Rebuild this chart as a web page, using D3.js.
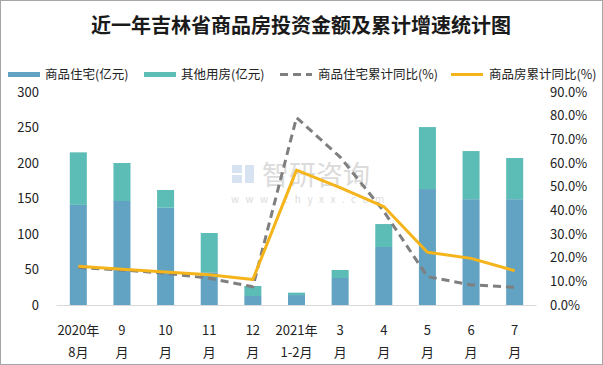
<!DOCTYPE html>
<html><head><meta charset="utf-8">
<script src="https://cdn.jsdelivr.net/npm/d3@7"></script>
<style>body{margin:0;background:#fff}svg{display:block}</style>
</head><body>
<svg id="chart" width="603" height="365"></svg>
<script>
const categories = ["2020年|8月","9|月","10|月","11|月","12|月","2021年|1-2月","3|月","4|月","5|月","6|月","7|月"];
const residential = [141, 146.5, 137, 46, 12.7, 14, 38, 81.7, 163.3, 149, 149];
const otherHousing = [74, 53.5, 25, 55.4, 14.1, 3.4, 11.3, 32.3, 87.3, 67.8, 58];
const residentialYoY = [15.8, 14.8, 13.4, 11.3, 7.7, 79.2, 62.5, 39.6, 12.0, 8.5, 7.5];
const housingYoY = [16.4, 15.1, 13.9, 12.8, 10.8, 57.0, 49.6, 41.6, 22.3, 19.7, 14.5];
const leftTicks = [0, 50, 100, 150, 200, 250, 300];
const rightTicks = [0, 10, 20, 30, 40, 50, 60, 70, 80, 90];
const seriesNames = ["商品住宅(亿元)", "其他用房(亿元)", "商品住宅累计同比(%)", "商品房累计同比(%)"];
const title = "近一年吉林省商品房投资金额及累计增速统计图";

const colors = {res:"#62A2C3", other:"#5CBCB6", gray:"#7F7F7F", yellow:"#F4B41A"};
const svg = d3.select("#chart");
const font = "'Noto Sans CJK SC','Noto Sans',sans-serif";

svg.append("rect").attr("x",0.5).attr("y",0.5).attr("width",602).attr("height",364)
  .attr("fill","#fff").attr("stroke","#A6A6A6");

svg.append("text").attr("x",301).attr("y",33).attr("text-anchor","middle")
  .attr("font-family",font).attr("font-weight","bold").attr("font-size",20).attr("fill","#1a1a1a")
  .text(title);

const x = d3.scaleBand().domain(categories).range([56.5, 536.5]).paddingInner(0.61).paddingOuter(0.305);
const yL = d3.scaleLinear().domain([0,300]).range([305,92]);
const yR = d3.scaleLinear().domain([0,90]).range([305,92]);
const cx = c => x(c) + x.bandwidth()/2;

// watermark
const wm = svg.append("g").attr("opacity",0.35);
wm.append("rect").attr("x",232).attr("y",165).attr("width",10).attr("height",8).attr("fill","#8fb0d8");
wm.append("rect").attr("x",232).attr("y",175).attr("width",10).attr("height",8).attr("fill","#8fb0d8");
wm.append("rect").attr("x",245).attr("y",165).attr("width",9).attr("height",18).attr("fill","#8fb0d8");
wm.append("text").attr("x",262).attr("y",185).attr("font-family",font).attr("font-size",27)
  .attr("fill","#999").text("智研咨询");
wm.append("text").attr("x",231).attr("y",203).attr("font-family",font).attr("font-size",10)
  .attr("letter-spacing",6.5).attr("fill","#999").text("www.chyxx.com");

// axis baseline
svg.append("line").attr("x1",56.5).attr("x2",536.5).attr("y1",305.5).attr("y2",305.5)
  .attr("stroke","#D9D9D9").attr("stroke-width",1);

// stacked bars
const stackData = categories.map((c,i)=>({cat:c, res:residential[i], other:otherHousing[i]}));
const stacked = d3.stack().keys(["res","other"])(stackData);
svg.append("g").selectAll("g").data(stacked).join("g")
  .attr("fill", d => colors[d.key])
  .selectAll("rect").data(d=>d).join("rect")
  .attr("x", d => x(d.data.cat)).attr("width", x.bandwidth())
  .attr("y", d => yL(d[1])).attr("height", d => yL(d[0]) - yL(d[1]));

// lines
const line = d3.line().x((d,i)=>cx(categories[i])).y(d=>yR(d));
svg.append("path").datum(residentialYoY).attr("d",line).attr("fill","none")
  .attr("stroke",colors.gray).attr("stroke-width",3).attr("stroke-dasharray","8,5");
svg.append("path").datum(housingYoY).attr("d",line).attr("fill","none")
  .attr("stroke",colors.yellow).attr("stroke-width",3).attr("stroke-linejoin","round");

// left axis
const axL = svg.append("g").attr("transform","translate(39,0)")
  .call(d3.axisLeft(yL).tickValues(leftTicks).tickSize(0).tickPadding(0));
axL.select(".domain").remove();
axL.selectAll("text").attr("font-family",font).attr("font-size",13).attr("fill","#222");

// right axis
const axR = svg.append("g").attr("transform","translate(550,0)")
  .call(d3.axisRight(yR).tickValues(rightTicks).tickSize(0).tickPadding(0).tickFormat(d=>d.toFixed(1)+"%"));
axR.select(".domain").remove();
axR.selectAll("text").attr("font-family",font).attr("font-size",13).attr("fill","#222");

// x labels
const xl = svg.append("g");
categories.forEach(c=>{
  const parts = c.split("|");
  const t = xl.append("text").attr("text-anchor","middle").attr("font-family",font)
    .attr("font-size",13).attr("fill","#222");
  t.append("tspan").attr("x",cx(c)).attr("y",335).text(parts[0]);
  t.append("tspan").attr("x",cx(c)).attr("y",357).text(parts[1]);
});

// legend
const legend = [
  {name:seriesNames[0], type:"rect", color:colors.res, x:8, tx:45},
  {name:seriesNames[1], type:"rect", color:colors.other, x:144, tx:181},
  {name:seriesNames[2], type:"dash", color:colors.gray, x:280, tx:318},
  {name:seriesNames[3], type:"line", color:colors.yellow, x:451, tx:489}
];
const lg = svg.append("g");
legend.forEach(l=>{
  if(l.type==="rect"){
    lg.append("rect").attr("x",l.x).attr("y",72).attr("width",32).attr("height",5).attr("fill",l.color);
  } else {
    lg.append("line").attr("x1",l.x).attr("x2",l.x+32).attr("y1",74.5).attr("y2",74.5)
      .attr("stroke",l.color).attr("stroke-width",3)
      .attr("stroke-dasharray", l.type==="dash" ? "8,5" : null);
  }
  lg.append("text").attr("x",l.tx).attr("y",79).attr("font-family",font).attr("font-size",12.5)
    .attr("fill","#222").text(l.name);
});
</script>
</body></html>
